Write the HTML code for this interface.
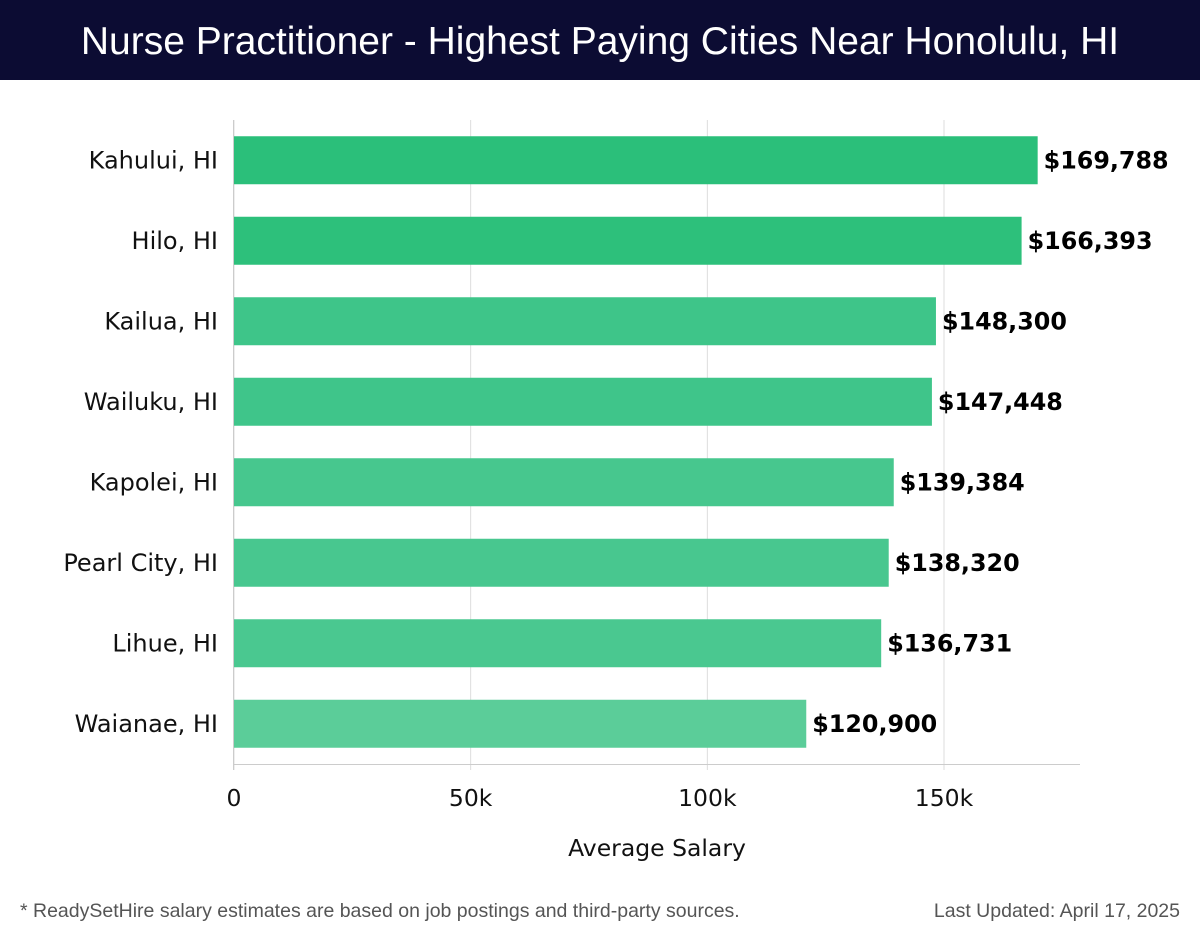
<!DOCTYPE html>
<html><head><meta charset="utf-8"><style>
body{margin:0;width:1200px;height:940px;background:#fff;overflow:hidden;font-family:"DejaVu Sans","Liberation Sans",sans-serif}
#hdr{position:absolute;left:0;top:0;width:1200px;height:80px;background:#0c0c33;color:#fff;font-family:"Liberation Sans",sans-serif;font-size:39px;text-align:center;line-height:84px}
.ft{position:absolute;top:900px;font-size:19.5px;color:#555;font-family:"Liberation Sans",sans-serif}
</style></head><body>
<div id="hdr">Nurse Practitioner - Highest Paying Cities Near Honolulu, HI</div>
<svg id="c" width="1200" height="940" style="position:absolute;left:0;top:0"></svg>
<div class="ft" style="left:20px">* ReadySetHire salary estimates are based on job postings and third-party sources.</div>
<div class="ft" style="right:20px">Last Updated: April 17, 2025</div>
<script>
const cities=["Kahului, HI","Hilo, HI","Kailua, HI","Wailuku, HI","Kapolei, HI","Pearl City, HI","Lihue, HI","Waianae, HI"];
const salaries=[169788,166393,148300,147448,139384,138320,136731,120900];
const ticks=[0,50000,100000,150000];
const tickLabels=["0","50k","100k","150k"];
const colors=["#2bbf7a","#2dc07b","#3ec589","#3fc58a","#47c78e","#48c78f","#4ac890","#5bcd99"];
const NS="http://www.w3.org/2000/svg",svg=document.getElementById('c');
const x0=234,pxPer=(944-234)/150000,top0=120,band=80.5,bh=48;
const X=v=>x0+v*pxPer;
function mk(t,a,txt){const e=document.createElementNS(NS,t);for(const k in a)e.setAttribute(k,a[k]);if(txt!=null)e.textContent=txt;svg.appendChild(e);return e;}
ticks.forEach((t,i)=>{
 const g=mk('line',{x1:X(t),x2:X(t),y1:120,y2:770,stroke:'#ddd','stroke-width':1});
 
 
 const l=mk('text',{x:X(t),y:806,'text-anchor':'middle','font-size':23.5,fill:'#111'},tickLabels[i]);
 
 
});
const ax=mk('line',{x1:233,x2:1080,y1:764.5,y2:764.5,stroke:'#ccc'});


const ay=mk('line',{x1:233.5,x2:233.5,y1:120,y2:770,stroke:'#ccc'});


cities.forEach((c,i)=>{
 const cy=top0+band*(i+0.5);
 const r=mk('rect',{x:x0,y:cy-bh/2,width:X(salaries[i])-x0,height:bh,fill:colors[i]});
 
 
 const lb=mk('text',{x:218,y:cy+8,'text-anchor':'end','font-size':24,fill:'#111'},c);
 
 
 const v=mk('text',{x:X(salaries[i])+6,y:cy+8,'font-size':23.8,'font-weight':'bold',fill:'#000'},'$'+salaries[i].toLocaleString('en-US'));
 
 
});
const xt=mk('text',{x:657,y:856,'text-anchor':'middle','font-size':23.5,fill:'#111'},'Average Salary');


</script>
</body></html>
